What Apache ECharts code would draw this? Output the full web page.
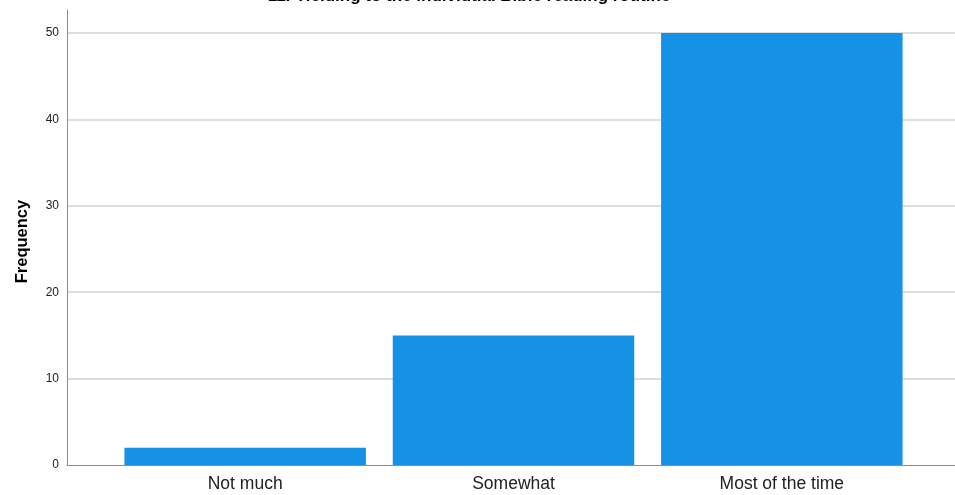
<!DOCTYPE html>
<html>
<head>
<meta charset="utf-8">
<script src="https://cdn.jsdelivr.net/npm/echarts@6/dist/echarts.min.js"></script>
<style>html,body{margin:0;padding:0;background:#fff}#c{width:955px;height:495px}</style>
</head>
<body>
<div id="c"></div>
<script>
const titleText = "11. Yielding to the individual Bible reading routine";
const categories = ["Not much", "Somewhat", "Most of the time"];
const frequencies = [2, 15, 50];
const yTicks = [0, 10, 20, 30, 40, 50];
const yMax = 52.66;

const chart = echarts.init(document.getElementById('c'), null, {renderer: 'canvas'});
const font = "'Liberation Sans', Arial, sans-serif";
chart.setOption({
  animation: false,
  backgroundColor: '#fff',
  title: {
    text: titleText, left: 464, top: -17, textAlign: 'center',
    textStyle: {fontFamily: font, fontSize: 17, fontWeight: 'bold', color: '#000'}
  },
  grid: [
    {left: 67, right: 0, top: 10, bottom: 30},
    {left: 111, right: 39, top: 10, bottom: 30}
  ],
  xAxis: [
    {gridIndex: 0, type: 'value', min: 0, max: 1,
     axisLine: {show: true, lineStyle: {color: '#8c8c8c', width: 1}},
     axisTick: {show: false}, axisLabel: {show: false}, splitLine: {show: false}, z: 12},
    {gridIndex: 1, type: 'category', data: categories,
     axisLine: {show: false}, axisTick: {show: false},
     axisLabel: {fontFamily: font, fontSize: 17.5, color: '#222', margin: 10}}
  ],
  yAxis: [
    {gridIndex: 0, type: 'value', min: 0, max: yMax, interval: 10,
     name: 'Frequency', nameLocation: 'middle', nameGap: 36, nameRotate: 90,
     nameTextStyle: {fontFamily: font, fontSize: 16.5, fontWeight: 'bold', color: '#000',
       padding: [0, 8, 0, 0]},
     axisLine: {show: true, lineStyle: {color: '#8c8c8c', width: 1}},
     axisTick: {show: false},
     showMaxLabel: false,
     axisLabel: {fontFamily: font, fontSize: 12, color: '#222', margin: 8,
       formatter: v => (yTicks.indexOf(v) >= 0 ? String(v) : '')},
     splitLine: {show: true, showMaxLine: false, showMinLine: false,
       lineStyle: {color: '#d3d3d3', width: 1.5}}, z: 1},
    {gridIndex: 1, type: 'value', min: 0, max: yMax, show: false, splitLine: {show: false}}
  ],
  series: [{
    type: 'bar', xAxisIndex: 1, yAxisIndex: 1, data: frequencies,
    barCategoryGap: '10%', z: 10,
    itemStyle: {color: '#1591E6'}
  }]
});
</script>
</body>
</html>
